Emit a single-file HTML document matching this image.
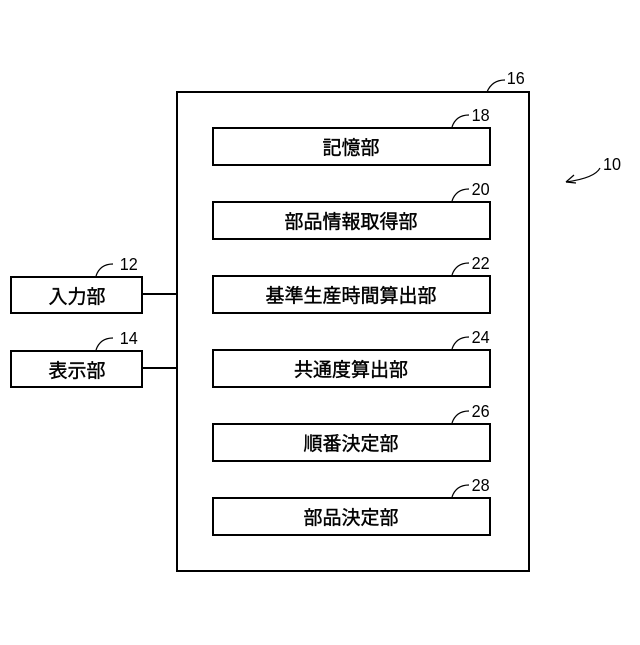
<!DOCTYPE html>
<html><head><meta charset="utf-8"><style>
body{margin:0;background:#fff;}
</style></head><body>
<svg width="640" height="640" viewBox="0 0 640 640" xmlns="http://www.w3.org/2000/svg" font-family="Liberation Sans, Noto Sans CJK JP, sans-serif">
<g fill="none" stroke="#000" stroke-width="2">
<rect x="177" y="92" width="352" height="479"/>
<rect x="213" y="128" width="277" height="37"/>
<rect x="213" y="202" width="277" height="37"/>
<rect x="213" y="276" width="277" height="37"/>
<rect x="213" y="350" width="277" height="37"/>
<rect x="213" y="424" width="277" height="37"/>
<rect x="213" y="498" width="277" height="37"/>
<rect x="11" y="277" width="131" height="36"/>
<rect x="11" y="351" width="131" height="36"/>
<line x1="142" y1="294" x2="177" y2="294"/>
<line x1="142" y1="368" x2="177" y2="368"/>
</g>
<g fill="none" stroke="#000" stroke-width="1.2">
<path d="M487 92 Q492 80 505 80"/>
<path d="M452 127 Q456 115 469 115"/>
<path d="M452 201 Q456 189 469 189"/>
<path d="M452 275 Q456 263 469 263"/>
<path d="M452 349 Q456 337 469 337"/>
<path d="M452 423 Q456 411 469 411"/>
<path d="M452 497 Q456 485 469 485"/>
<path d="M96 276 Q100 264 113 264"/>
<path d="M96 350 Q100 338 113 338"/>
<path d="M600 168 Q595 178 566 182"/>
<path d="M566 182 L574 175 M566 182 L576 183"/>
</g>
<g font-size="19" text-anchor="middle" fill="#000" stroke="#000" stroke-width="0.4">
<text x="351" y="154">記憶部</text>
<text x="351" y="228">部品情報取得部</text>
<text x="351" y="302">基準生産時間算出部</text>
<text x="351" y="376">共通度算出部</text>
<text x="351" y="450">順番決定部</text>
<text x="351" y="524">部品決定部</text>
<text x="77" y="303">入力部</text>
<text x="77" y="377">表示部</text>
</g>
<g font-size="18" fill="#000" transform="scale(0.9,1)">
<text x="563" y="84">16</text>
<text x="524" y="121">18</text>
<text x="524" y="195">20</text>
<text x="524" y="269">22</text>
<text x="524" y="343">24</text>
<text x="524" y="417">26</text>
<text x="524" y="491">28</text>
<text x="133" y="270">12</text>
<text x="133" y="344">14</text>
<text x="670" y="170">10</text>
</g>
</svg>
</body></html>
